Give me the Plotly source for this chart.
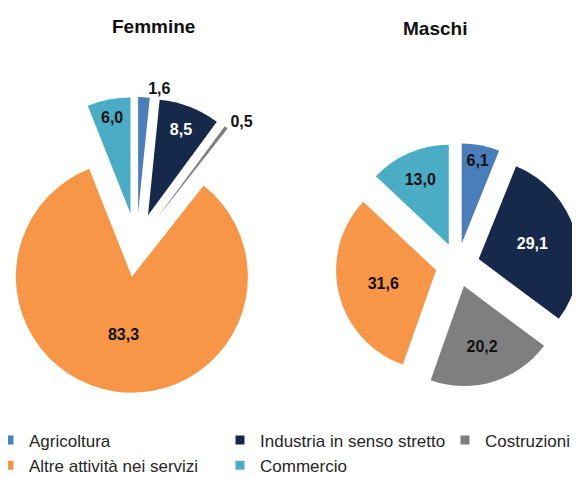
import math
import plotly.graph_objects as go

# ---- data ----
categories = ["Agricoltura", "Industria in senso stretto", "Costruzioni",
              "Altre attività nei servizi", "Commercio"]
femmine = [1.6, 8.5, 0.5, 83.3, 6.0]
maschi = [6.1, 29.1, 20.2, 31.6, 13.0]
titles = ["Femmine", "Maschi"]

# ---- style ----
colors = ["#4A7EBB", "#17294A", "#7F7F7F", "#F79646", "#4BACC6"]
label_colors = ["#111111", "#FFFFFF", "#111111", "#111111", "#111111"]
femmine_textpos = ["outside", "inside", "outside", "inside", "inside"]
maschi_textpos = ["inside", "inside", "inside", "inside", "inside"]
legend_ids = ["legend", "legend2", "legend3", "legend", "legend2"]
FONT = "Liberation Sans, Arial, sans-serif"
W, H = 580, 478
OFF = 8  # the page body adds an 8px margin; positions below are page pixels

fig = go.Figure()


def add_exploded_pie(values, cx, cy, R, d, textpos, name):
    """Each slice is drawn by its own pie trace whose centre is pushed
    out along the slice's mid angle (exploded pie)."""
    cx -= OFF
    cy -= OFF
    total = sum(values)
    n = len(values)
    cum = 0.0
    for i, v in enumerate(values):
        mid = 2 * math.pi * (cum + v / 2.0) / total
        cum += v
        px = cx + d * math.sin(mid)
        py = cy - d * math.cos(mid)
        fig.add_trace(go.Pie(
            name=name,
            values=values,
            labels=categories,
            sort=False,
            direction="clockwise",
            rotation=0,
            marker=dict(colors=[colors[j] if j == i else "rgba(0,0,0,0)" for j in range(n)],
                        line=dict(width=0)),
            texttemplate=["<b>%{value:.1f}</b>" if j == i else "" for j in range(n)],
            textposition=[textpos[j] if j == i else "none" for j in range(n)],
            textfont=dict(family=FONT, size=16, color=label_colors),
            insidetextorientation="horizontal",
            hoverinfo=["label+value" if j == i else "none" for j in range(n)],
            showlegend=False,
            domain=dict(x=[max(0, (px - R) / W), min(1, (px + R) / W)],
                        y=[max(0, 1 - (py + R) / H), min(1, 1 - (py - R) / H)]),
        ))


add_exploded_pie(femmine, 136.5, 245, 116, 32, femmine_textpos, titles[0])
add_exploded_pie(maschi, 457.5, 265, 100, 22, maschi_textpos, titles[1])

# legend entries
for cat, col, lg in zip(categories, colors, legend_ids):
    fig.add_trace(go.Scatter(
        x=[None], y=[None], mode="markers", name=cat,
        marker=dict(symbol="square", size=9, color=col),
        legend=lg, showlegend=True, hoverinfo="skip"))

# titles
for t, (tx, ty) in zip(titles, [(153, 26), (435, 28)]):
    fig.add_annotation(text="<b>" + t + "</b>", x=(tx - OFF) / W, y=1 - (ty - OFF) / H,
                       xref="paper", yref="paper", showarrow=False,
                       xanchor="center", yanchor="middle",
                       font=dict(family=FONT, size=19, color="#111111"))

legend_common = dict(orientation="v", xanchor="left", yanchor="top",
                     y=1 - (440 - OFF - 17.5) / H, bgcolor="rgba(0,0,0,0)",
                     font=dict(family=FONT, size=17, color="#262626"))

fig.update_layout(
    width=W, height=H,
    margin=dict(l=0, r=0, t=0, b=0, autoexpand=False),
    paper_bgcolor="white", plot_bgcolor="white",
    font=dict(family=FONT),
    separators=",.",
    showlegend=True,
    uniformtext=dict(minsize=16, mode="show"),
    xaxis=dict(visible=False), yaxis=dict(visible=False),
    legend=dict(x=(9 - OFF - 20) / W, **legend_common),
    legend2=dict(x=(240 - OFF - 20) / W, **legend_common),
    legend3=dict(x=(465 - OFF - 20) / W, **legend_common),
)

fig.write_html("out.html")
